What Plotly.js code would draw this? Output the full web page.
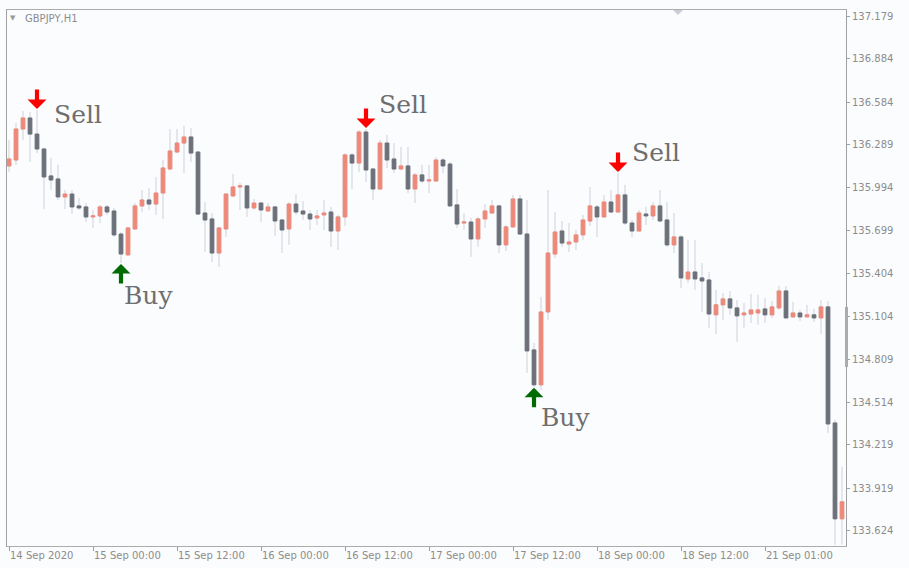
<!DOCTYPE html>
<html>
<head>
<meta charset="utf-8">
<script src="https://cdn.plot.ly/plotly-3.0.1.min.js"></script>
<style>html,body{margin:0;padding:0;background:#fbfcfe;}#chart{width:909px;height:568px;}</style>
</head>
<body>
<div id="chart"></div>
<script>
// GBPJPY H1 bars (index 0 = 14 Sep 2020 12:00)
const opens = [136.144,136.185,136.399,136.475,136.364,136.261,136.075,136.054,135.930,135.950,
135.868,135.861,135.792,135.799,135.861,135.833,135.674,135.530,135.709,135.868,
135.909,135.881,135.957,136.123,136.240,136.302,136.344,136.240,135.819,135.778,
135.543,135.709,135.937,135.999,136.006,135.854,135.888,135.833,135.861,135.771,
135.709,135.881,135.833,135.812,135.785,135.806,135.826,135.695,135.792,136.220,
136.164,136.378,136.123,135.985,136.302,136.192,136.123,136.144,135.985,136.082,
136.040,136.040,136.185,136.157,135.875,135.750,135.757,135.640,135.778,135.819,
135.868,135.599,135.723,135.916,135.674,134.874,134.633,135.136,135.536,135.695,
135.605,135.619,135.668,135.764,135.861,135.792,135.895,135.826,135.944,135.750,
135.695,135.812,135.799,135.868,135.771,135.599,135.654,135.364,135.412,135.371,
135.357,135.116,135.185,135.226,135.164,135.116,135.122,135.129,135.157,135.116,
135.164,135.281,135.102,135.129,135.102,135.116,135.095,135.171,134.370,133.708];
const highs = [136.323,136.440,136.523,136.516,136.530,136.268,136.199,136.151,135.978,135.978,
135.923,135.888,135.840,135.875,135.875,135.854,135.688,135.723,135.888,135.978,
135.992,136.068,136.185,136.399,136.399,136.420,136.406,136.247,135.895,135.819,
135.723,135.957,136.088,136.026,136.013,135.916,135.895,135.888,135.868,135.778,
135.895,135.950,135.902,135.840,135.840,135.909,135.861,135.806,136.233,136.233,
136.392,136.399,136.123,136.323,136.358,136.302,136.275,136.275,136.095,136.151,
136.151,136.206,136.199,136.171,135.985,135.819,135.785,135.792,135.881,135.909,
135.875,135.737,135.944,135.944,135.909,134.922,135.240,135.978,135.826,135.764,
135.750,135.702,135.806,135.999,135.875,135.944,135.978,136.095,136.013,135.771,
135.840,135.861,135.895,135.978,135.895,135.819,135.668,135.633,135.633,135.474,
135.412,135.288,135.267,135.281,135.219,135.198,135.260,135.254,135.233,135.212,
135.316,135.316,135.205,135.150,135.185,135.157,135.219,135.212,134.391,134.067];
const lows = [136.102,136.151,136.323,136.171,136.233,135.847,135.978,135.909,135.847,135.812,
135.840,135.757,135.716,135.750,135.806,135.654,135.474,135.523,135.702,135.826,
135.840,135.806,135.778,136.116,136.233,136.095,136.171,135.806,135.550,135.481,
135.447,135.654,135.930,135.840,135.792,135.840,135.757,135.826,135.661,135.543,
135.599,135.806,135.771,135.702,135.737,135.702,135.585,135.564,135.730,135.985,
136.102,136.033,135.909,135.978,136.130,136.095,136.116,135.957,135.888,136.026,
135.957,136.033,136.095,135.861,135.716,135.702,135.516,135.585,135.716,135.812,
135.543,135.557,135.716,135.668,134.715,134.619,134.598,135.081,135.509,135.585,
135.550,135.564,135.633,135.730,135.654,135.785,135.819,135.819,135.737,135.654,
135.688,135.737,135.771,135.757,135.585,135.543,135.302,135.336,135.288,135.136,
135.026,134.984,135.081,135.116,134.929,135.026,135.060,135.047,135.060,135.095,
135.150,135.095,135.095,135.074,135.102,135.067,134.984,134.301,133.529,133.529];
const closes = [136.192,136.399,136.475,136.364,136.261,136.068,136.047,135.930,135.950,135.861,
135.854,135.792,135.799,135.861,135.826,135.668,135.536,135.716,135.868,135.909,
135.881,135.957,136.130,136.247,136.302,136.344,136.233,135.812,135.771,135.543,
135.716,135.950,135.999,136.006,135.854,135.888,135.840,135.861,135.764,135.702,
135.881,135.826,135.812,135.778,135.799,135.819,135.695,135.792,136.220,136.164,
136.378,136.116,135.985,136.302,136.185,136.123,136.144,135.985,136.082,136.040,
136.047,136.185,136.144,135.868,135.743,135.757,135.640,135.778,135.833,135.868,
135.599,135.723,135.916,135.674,134.867,134.633,135.136,135.543,135.688,135.612,
135.619,135.668,135.771,135.868,135.792,135.895,135.826,135.944,135.750,135.695,
135.819,135.799,135.868,135.764,135.599,135.654,135.371,135.412,135.364,135.350,
135.122,135.185,135.226,135.164,135.109,135.129,135.150,135.150,135.116,135.171,
135.281,135.095,135.129,135.102,135.116,135.095,135.171,134.363,133.708,133.825];

const timeTickIdx = [0,12,24,36,48,60,72,84,96,108];
const timeTickLabels = ['14 Sep 2020','15 Sep 00:00','15 Sep 12:00','16 Sep 00:00','16 Sep 12:00',
  '17 Sep 00:00','17 Sep 12:00','18 Sep 00:00','18 Sep 12:00','21 Sep 01:00'];
const priceTicks = ['137.179','136.884','136.584','136.289','135.994','135.699','135.404',
  '135.104','134.809','134.514','134.219','133.919','133.624'];

const sellIdx = [4, 51, 87];
const buyIdx = [16, 75];

// ---- rendering ----
const idx = opens.map((_, i) => i);
const bodyHi = opens.map((o, i) => Math.max(o, closes[i]));
const bodyLo = opens.map((o, i) => Math.min(o, closes[i]));

const UP = '#f08878', DOWN = '#6b7079', WICK = '#cdd1db';
const TXT = '#8c8c8c';

const wickTrace = {
  type: 'candlestick', x: idx, open: opens, high: highs, low: lows, close: closes,
  increasing: {line: {color: WICK, width: 1}, fillcolor: WICK},
  decreasing: {line: {color: WICK, width: 1}, fillcolor: WICK},
  whiskerwidth: 0, hoverinfo: 'skip', showlegend: false
};
const bodyTrace = {
  type: 'candlestick', x: idx, open: opens, high: bodyHi, low: bodyLo, close: closes,
  increasing: {line: {color: UP, width: 1}, fillcolor: UP},
  decreasing: {line: {color: DOWN, width: 1}, fillcolor: DOWN},
  whiskerwidth: 0, hoverinfo: 'skip', showlegend: false
};

const annotations = [];
const sellText = [[15, -4], [11, 24], [12, 21]];
const buyText = [[1, -33], [5, -31]];
const arrowStyle = {arrowhead: 1, arrowwidth: 4.2, arrowsize: 0.75, standoff: 1};
sellIdx.forEach((i, k) => {
  annotations.push(Object.assign({x: i, y: highs[i], xref: 'x', yref: 'y', text: '', showarrow: true,
    ax: 0, ay: -22, arrowcolor: '#ff0000'}, arrowStyle));
  annotations.push({x: i, y: highs[i], xref: 'x', yref: 'y', text: 'Sell', showarrow: false,
    xanchor: 'left', yanchor: 'middle', xshift: sellText[k][0], yshift: sellText[k][1],
    font: {family: 'DejaVu Serif', size: 25, color: '#6e6e6e'}});
});
buyIdx.forEach((i, k) => {
  annotations.push(Object.assign({x: i, y: lows[i], xref: 'x', yref: 'y', text: '', showarrow: true,
    ax: 0, ay: 22, arrowcolor: '#006b00'}, arrowStyle));
  annotations.push({x: i, y: lows[i], xref: 'x', yref: 'y', text: 'Buy', showarrow: false,
    xanchor: 'left', yanchor: 'middle', xshift: buyText[k][0], yshift: buyText[k][1],
    font: {family: 'DejaVu Serif', size: 25, color: '#6e6e6e'}});
});
annotations.push({xref: 'paper', yref: 'paper', x: 0.0015, y: 0.985, xanchor: 'left', yanchor: 'middle',
  text: '▼', showarrow: false, font: {family: 'DejaVu Sans', size: 7, color: '#9a9a9a'}});
annotations.push({xref: 'paper', yref: 'paper', x: 0.019, y: 0.985, xanchor: 'left', yanchor: 'middle',
  text: 'GBPJPY,H1', showarrow: false, font: {family: 'DejaVu Sans', size: 10, color: TXT}});

const layout = {
  width: 909, height: 568,
  margin: {l: 7, r: 63, t: 10, b: 22, pad: 0},
  paper_bgcolor: '#fbfcfe', plot_bgcolor: '#fbfcfe',
  showlegend: false,
  boxgap: 0.26,
  xaxis: {
    type: 'linear', range: [-0.286, 119.57], rangeslider: {visible: false},
    tickvals: timeTickIdx, ticktext: timeTickLabels, tickmode: 'array',
    ticks: 'outside', ticklen: 4, tickcolor: '#a0a0a0', ticklabelposition: 'outside right',
    tickfont: {family: 'DejaVu Sans', size: 10, color: TXT},
    showgrid: false, zeroline: false, showline: true, linecolor: '#acacac', linewidth: 1, mirror: true,
    fixedrange: true
  },
  yaxis: {
    side: 'right', range: [133.5204, 137.2204],
    tickmode: 'array', tickvals: priceTicks.map(Number), ticktext: priceTicks,
    ticks: 'outside', ticklen: 3, tickcolor: '#a0a0a0',
    tickfont: {family: 'DejaVu Sans', size: 10, color: TXT},
    showgrid: false, zeroline: false, showline: true, linecolor: '#a0a0a0', linewidth: 1, mirror: true,
    fixedrange: true
  },
  shapes: [
    {type: 'path', xref: 'paper', yref: 'paper', path: 'M 0.7938 1 L 0.8057 1 L 0.7998 0.9907 Z',
     fillcolor: '#c9cdd6', line: {width: 0}},
    {type: 'rect', xref: 'paper', yref: 'paper', x0: 0.9988, x1: 1.0024, y0: 0.334, y1: 0.446,
     fillcolor: '#a9abb0', line: {width: 0}}
  ],
  annotations: annotations
};

Plotly.newPlot('chart', [wickTrace, bodyTrace], layout, {displayModeBar: false, staticPlot: true});
</script>
</body>
</html>
